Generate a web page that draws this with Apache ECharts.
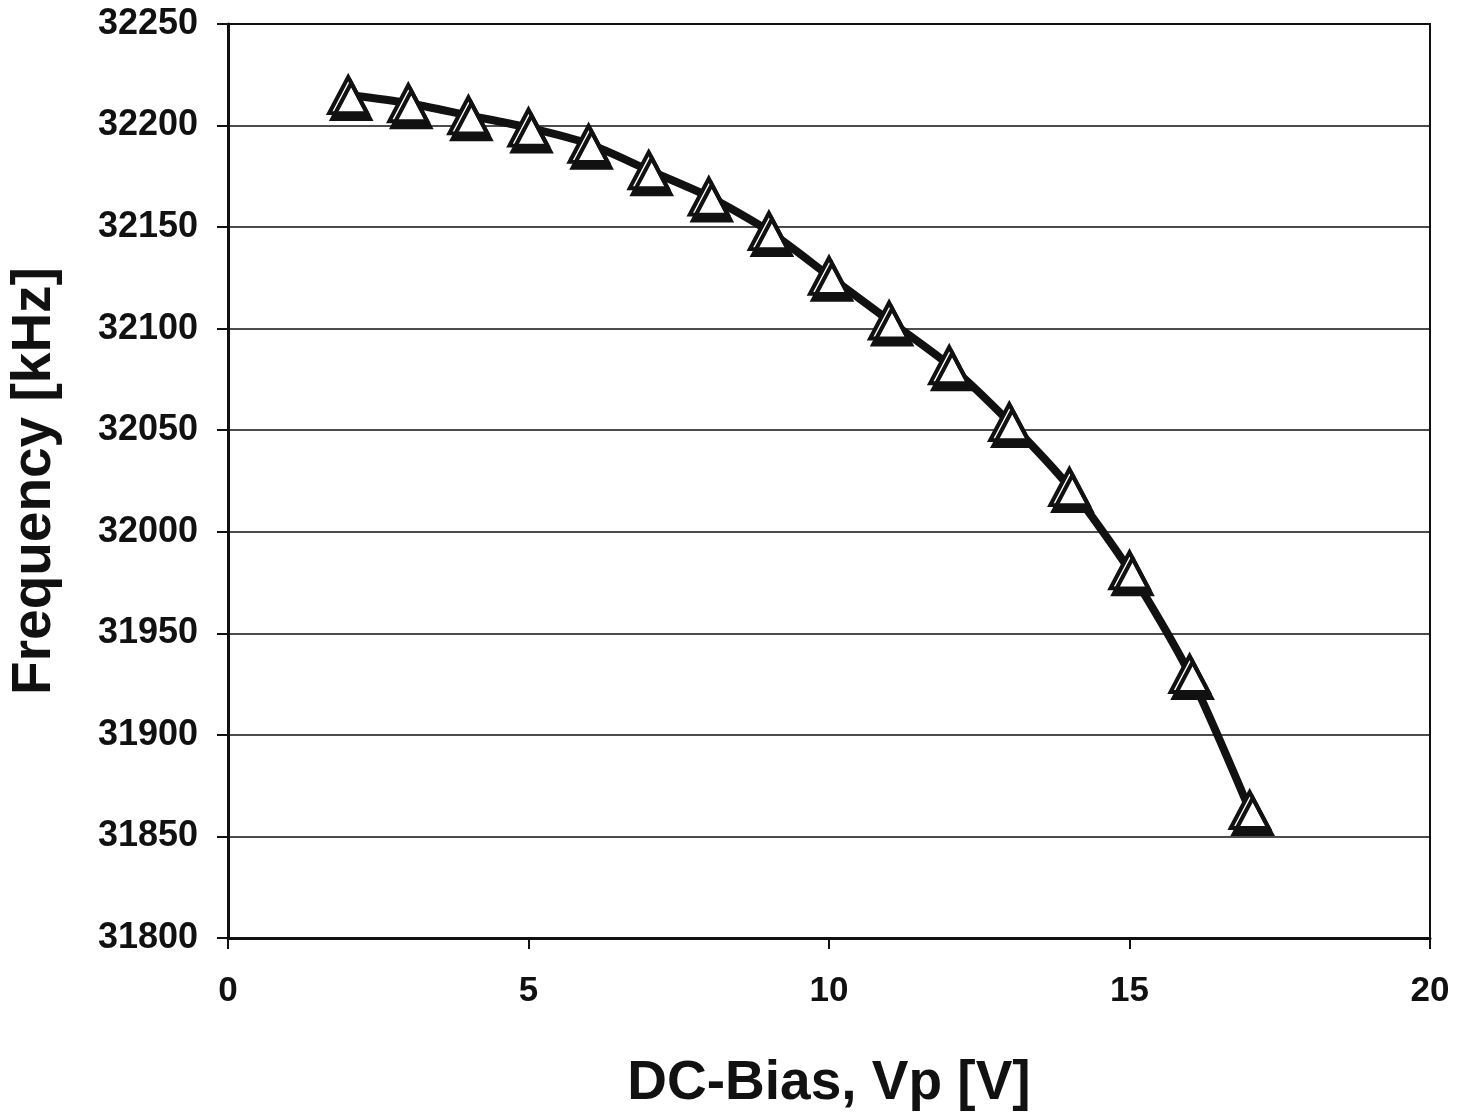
<!DOCTYPE html>
<html>
<head>
<meta charset="utf-8">
<script src="https://cdn.jsdelivr.net/npm/echarts@6/dist/echarts.min.js"></script>
<style>
  html, body { margin: 0; padding: 0; background: #fff; }
  #chart { width: 1472px; height: 1113px; }
</style>
</head>
<body>
<div id="chart"></div>
<script>
// DC bias [V] vs resonant frequency [kHz]
const biasVolts = [2, 3, 4, 5, 6, 7, 8, 9, 10, 11, 12, 13, 14, 15, 16, 17];
const freqKHz = [32215, 32211, 32205, 32199, 32191, 32178, 32165, 32148, 32126, 32104, 32082, 32054, 32022, 31981, 31930, 31863];

const fontFamily = '"Liberation Sans", Arial, sans-serif';
const ink = '#111';

const chart = echarts.init(document.getElementById('chart'));

const option = {
  animation: false,
  backgroundColor: '#fff',
  grid: {
    left: 228,
    right: 42,
    top: 24,
    bottom: 175,
    containLabel: false,
    outerBoundsMode: 'none',
    show: true,
    borderColor: ink,
    borderWidth: 2
  },
  xAxis: {
    type: 'value',
    min: 0,
    max: 20,
    interval: 5,
    name: 'DC-Bias, Vp [V]',
    nameLocation: 'middle',
    nameGap: 118,
    nameTextStyle: { color: ink, fontSize: 55, fontWeight: 'bold', fontFamily: fontFamily },
    axisLine: { lineStyle: { color: ink, width: 3 } },
    axisTick: { show: true, length: 11, lineStyle: { color: ink, width: 2 } },
    axisLabel: { color: ink, fontSize: 35, fontWeight: 'bold', fontFamily: fontFamily, margin: 36 },
    splitLine: { show: false }
  },
  yAxis: {
    type: 'value',
    min: 31800,
    max: 32250,
    interval: 50,
    name: 'Frequency [kHz]',
    nameLocation: 'middle',
    nameGap: 166,
    nameTextStyle: { color: ink, fontSize: 55, fontWeight: 'bold', fontFamily: fontFamily },
    axisLine: { show: true, lineStyle: { color: ink, width: 3 } },
    axisTick: { show: true, length: 11, lineStyle: { color: ink, width: 2 } },
    axisLabel: {
      color: ink, fontSize: 36, fontWeight: 'bold', fontFamily: fontFamily, margin: 30,
      formatter: v => String(v)
    },
    splitLine: { show: true, lineStyle: { color: ink, width: 1.5 } }
  },
  series: [
    {
      type: 'line',
      data: biasVolts.map((v, i) => [v, freqKHz[i]]),
      smooth: 0.25,
      lineStyle: { color: ink, width: 8 },
      symbol: 'triangle',
      symbolSize: [38, 36],
      itemStyle: {
        color: '#fff',
        borderColor: ink,
        borderWidth: 4,
        shadowColor: ink,
        shadowBlur: 0,
        shadowOffsetX: 3,
        shadowOffsetY: 6
      },
      z: 3
    }
  ]
};

chart.setOption(option);
</script>
</body>
</html>
